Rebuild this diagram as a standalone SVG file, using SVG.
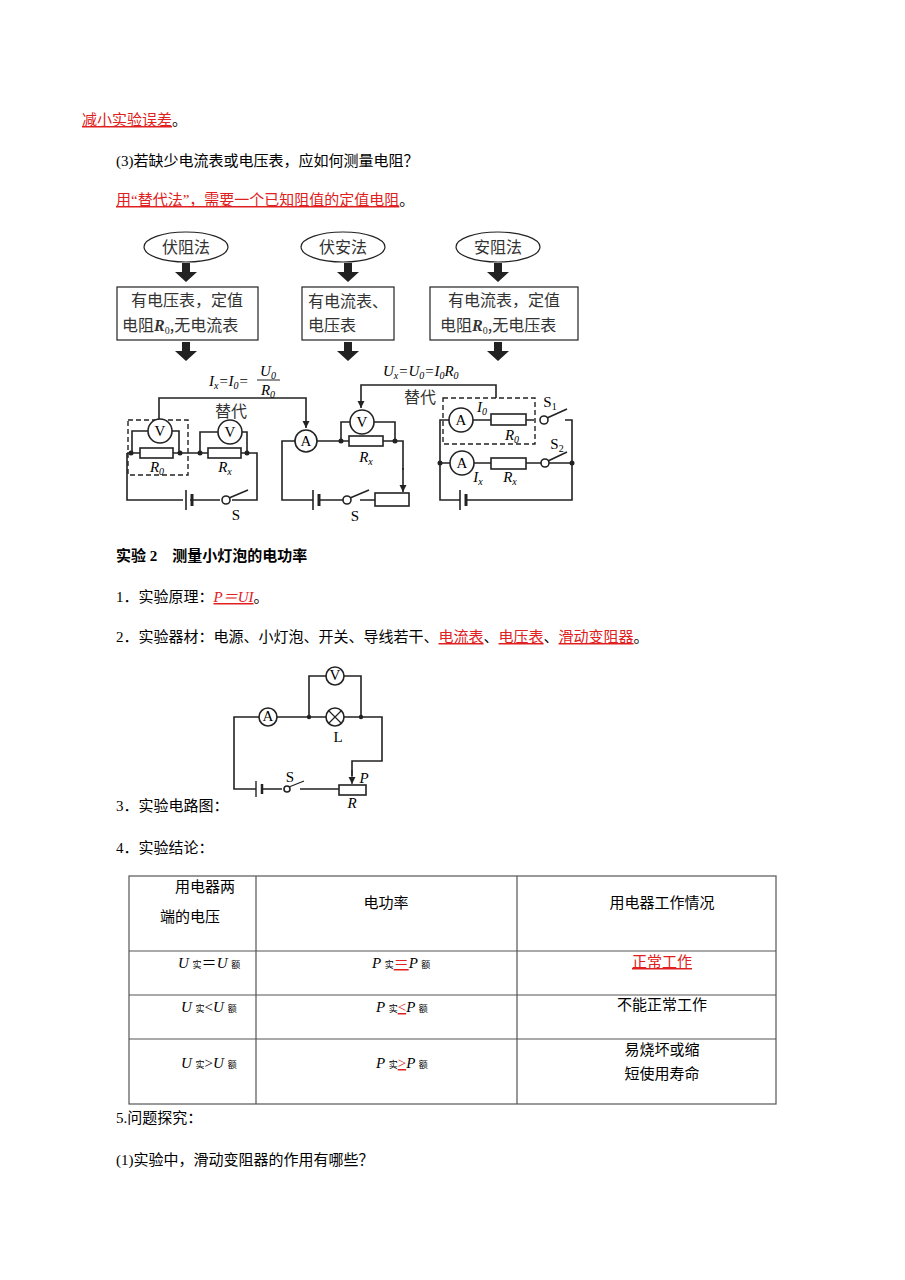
<svg xmlns="http://www.w3.org/2000/svg" width="905" height="1280" viewBox="0 0 905 1280">
<defs>
<style>
text{font-family:"Liberation Serif","Noto Sans CJK SC",serif;font-size:15px;fill:#000}
.r{fill:#e02020;text-decoration:underline}
.w{fill:none;stroke:#222;stroke-width:1.6}
.thin{fill:none;stroke:#222;stroke-width:1.2}
.d{fill:none;stroke:#222;stroke-width:1.4;stroke-dasharray:5 3}
.m{fill:#fff;stroke:#222;stroke-width:1.6}
.dot{fill:#222}
.lbl{font-family:"Liberation Serif",serif;font-size:15px;text-anchor:middle}
.it{font-style:italic}
.cj{font-family:"Noto Sans CJK SC",sans-serif;font-size:16px;fill:#333}
.c{text-anchor:middle}
.tb{fill:none;stroke:#555;stroke-width:1.2}
</style>
<marker id="ah" viewBox="0 0 10 10" refX="10" refY="5" markerWidth="7" markerHeight="9" orient="auto" markerUnits="userSpaceOnUse"><path d="M0,0L10,5L0,10Z" fill="#222"/></marker>
<g id="bigarrow"><path d="M-4,0H4V9H11L0,19L-11,9H-4Z" fill="#222"/></g>
</defs>
<rect width="905" height="1280" fill="#fff"/>

<g id="text-top">
<text x="82" y="125"><tspan class="r">减小实验误差</tspan>。</text>
<text x="116" y="166">(3)若缺少电流表或电压表，应如何测量电阻？</text>
<text x="116" y="205"><tspan class="r">用“替代法”，需要一个已知阻值的定值电阻</tspan>。</text>
</g>

<g id="flow">
<g id="n1"><ellipse cx="186" cy="247" rx="42" ry="15" class="thin"/><text x="186" y="253" class="cj c">伏阻法</text>
<use href="#bigarrow" x="186" y="263"/>
<rect x="117" y="287" width="141" height="53" class="thin"/><text x="187" y="306" class="cj c">有电压表，定值</text><text x="122" y="331" class="cj">电阻<tspan font-family="Liberation Serif" font-style="italic" font-weight="bold">R</tspan><tspan font-family="Liberation Serif" font-size="10" dy="3">0</tspan><tspan dy="-3">,无电流表</tspan></text>
<use href="#bigarrow" x="186" y="342"/></g>
<g id="n2"><ellipse cx="343" cy="247" rx="42" ry="15" class="thin"/><text x="343" y="253" class="cj c">伏安法</text>
<use href="#bigarrow" x="348" y="263"/>
<rect x="302" y="287" width="92" height="53" class="thin"/><text x="308" y="307" class="cj" font-size="15">有电流表、</text><text x="308" y="331" class="cj" font-size="15">电压表</text>
<use href="#bigarrow" x="348" y="342"/></g>
<g id="n3"><ellipse cx="498" cy="247" rx="42" ry="15" class="thin"/><text x="498" y="253" class="cj c">安阻法</text>
<use href="#bigarrow" x="498" y="263"/>
<rect x="430" y="287" width="148" height="53" class="thin"/><text x="504" y="306" class="cj c">有电流表，定值</text><text x="440" y="331" class="cj">电阻<tspan font-family="Liberation Serif" font-style="italic" font-weight="bold">R</tspan><tspan font-family="Liberation Serif" font-size="10" dy="3">0</tspan><tspan dy="-3">,无电压表</tspan></text>
<use href="#bigarrow" x="498" y="342"/></g>
</g>

<g id="circuit1">
<rect x="128" y="420" width="60" height="55" class="d"/>
<path d="M127,453H257V500H232M220,500H190M183,500H127V453" class="w"/>
<path d="M132,453V431H148M172,431H179V453M200,453V432H218M242,432H247V453" class="w"/>
<line x1="186" y1="490" x2="186" y2="510" stroke="#222" stroke-width="1.6"/><line x1="192" y1="494" x2="192" y2="506" stroke="#222" stroke-width="3"/>
<circle cx="226" cy="500" r="4" class="m"/><line x1="229" y1="498" x2="248" y2="490" class="w"/>
<circle cx="160" cy="431" r="12" class="m"/><text x="160" y="436" class="lbl">V</text>
<circle cx="230" cy="432" r="12" class="m"/><text x="230" y="437" class="lbl">V</text>
<rect x="140" y="448" width="33" height="10" class="m"/><rect x="208" y="448" width="33" height="10" class="m"/>
<circle cx="131" cy="453" r="2.5" class="dot"/><circle cx="180" cy="453" r="2.5" class="dot"/><circle cx="200" cy="453" r="2.5" class="dot"/><circle cx="247" cy="453" r="2.5" class="dot"/>
<text x="157" y="472" class="lbl it">R<tspan font-size="10" dy="3">0</tspan></text>
<text x="225" y="472" class="lbl it">R<tspan font-size="10" dy="3">x</tspan></text>
<text x="236" y="520" class="lbl">S</text>
</g>

<g id="circuit2">
<path d="M295,441H282V500H313M320,500H343M360,500H375M317,441H395H403V470" class="w"/>
<line x1="313" y1="490" x2="313" y2="510" stroke="#222" stroke-width="1.6"/><line x1="319" y1="494" x2="319" y2="506" stroke="#222" stroke-width="3"/>
<circle cx="347" cy="500" r="4" class="m"/><line x1="350" y1="498" x2="369" y2="490" class="w"/>
<rect x="375" y="493" width="34" height="13" class="m"/>
<path d="M403,468V492" class="w" marker-end="url(#ah)"/>
<path d="M341,441V422H350M374,422H395V441" class="w"/>
<circle cx="362" cy="422" r="12" class="m"/><text x="362" y="427" class="lbl">V</text>
<rect x="349" y="436" width="34" height="10" class="m"/>
<circle cx="306" cy="441" r="11" class="m"/><text x="306" y="446" class="lbl">A</text>
<circle cx="341" cy="441" r="2.5" class="dot"/><circle cx="395" cy="441" r="2.5" class="dot"/>
<text x="366" y="462" class="lbl it">R<tspan font-size="10" dy="3">x</tspan></text>
<text x="355" y="521" class="lbl">S</text>
</g>

<g id="circuit3">
<rect x="443" y="398" width="92" height="46" class="d"/>
<path d="M449,420H440V500H460M467,500H572V420H565M534,420H526M491,420H473M440,463H450M474,463H491M526,463H541M549,463H572" class="w"/>
<line x1="460" y1="490" x2="460" y2="510" stroke="#222" stroke-width="1.6"/><line x1="466" y1="494" x2="466" y2="506" stroke="#222" stroke-width="3"/>
<circle cx="461" cy="420" r="12" class="m"/><text x="461" y="425" class="lbl">A</text>
<circle cx="462" cy="463" r="12" class="m"/><text x="462" y="468" class="lbl">A</text>
<rect x="491" y="414" width="35" height="11" class="m"/><rect x="491" y="458" width="35" height="11" class="m"/>
<circle cx="544" cy="420" r="4" class="m"/><line x1="547" y1="418" x2="567" y2="409" class="w"/>
<circle cx="545" cy="463" r="4" class="m"/><line x1="548" y1="461" x2="567" y2="452" class="w"/>
<circle cx="440" cy="463" r="2.5" class="dot"/><circle cx="572" cy="463" r="2.5" class="dot"/>
<text x="482" y="412" class="lbl it">I<tspan font-size="10" dy="3">0</tspan></text>
<text x="512" y="440" class="lbl it">R<tspan font-size="10" dy="3">0</tspan></text>
<text x="478" y="482" class="lbl it">I<tspan font-size="10" dy="3">x</tspan></text>
<text x="510" y="482" class="lbl it">R<tspan font-size="10" dy="3">x</tspan></text>
<text x="550" y="407" class="lbl">S<tspan font-size="10" dy="3">1</tspan></text>
<text x="557" y="449" class="lbl">S<tspan font-size="10" dy="3">2</tspan></text>
</g>

<g id="connectors">
<path d="M159,419V398H306V428" class="w" marker-end="url(#ah)"/>
<path d="M496,398V385H361V408" class="w" marker-end="url(#ah)"/>
<text x="209" y="386" class="it" font-family="Liberation Serif">I<tspan font-size="10" dy="3">x</tspan><tspan dy="-3">=I</tspan><tspan font-size="10" dy="3">0</tspan><tspan dy="-3">=</tspan></text>
<text x="268" y="376" class="lbl it">U<tspan font-size="10" dy="3">0</tspan></text>
<line x1="257" y1="380" x2="280" y2="380" stroke="#222" stroke-width="1"/>
<text x="268" y="395" class="lbl it">R<tspan font-size="10" dy="3">0</tspan></text>
<text x="231" y="417" class="cj c">替代</text>
<text x="383" y="376" class="it" font-family="Liberation Serif">U<tspan font-size="10" dy="3">x</tspan><tspan dy="-3">=U</tspan><tspan font-size="10" dy="3">0</tspan><tspan dy="-3">=I</tspan><tspan font-size="10" dy="3">0</tspan><tspan dy="-3">R</tspan><tspan font-size="10" dy="3">0</tspan></text>
<text x="420" y="403" class="cj c">替代</text>
</g>

<g id="text-mid">
<text x="116" y="561" font-weight="bold" font-size="14">实验 2　测量小灯泡的电功率</text>
<text x="116" y="602">1．实验原理：<tspan class="r" font-style="italic">P＝UI</tspan>。</text>
<text x="116" y="642">2．实验器材：电源、小灯泡、开关、导线若干、<tspan class="r">电流表</tspan>、<tspan class="r">电压表</tspan>、<tspan class="r">滑动变阻器</tspan>。</text>
<text x="116" y="811">3．实验电路图：</text>
<text x="116" y="853">4．实验结论：</text>
</g>

<g id="circuit4">
<path d="M259,717H234V789H256M262,789H282M300,789H339M277,717H326M344,717H382V761H352V776" class="w"/>
<path d="M352,770V784" class="thin" marker-end="url(#ah)"/>
<path d="M309,717V676H326M344,676H361V717" class="w"/>
<line x1="256" y1="781" x2="256" y2="797" stroke="#222" stroke-width="1.4"/><line x1="262" y1="784" x2="262" y2="794" stroke="#222" stroke-width="2.5"/>
<circle cx="287" cy="789" r="3" class="m"/><line x1="289" y1="787" x2="304" y2="781" class="thin"/>
<rect x="339" y="785" width="27" height="10" class="m"/>
<circle cx="268" cy="717" r="9" class="m"/><text x="268" y="721" class="lbl" font-size="11">A</text>
<circle cx="335" cy="676" r="9" class="m"/><text x="335" y="680" class="lbl" font-size="11">V</text>
<circle cx="335" cy="717" r="9" class="m"/><path d="M329,711L341,723M341,711L329,723" class="thin"/>
<circle cx="309" cy="717" r="2.2" class="dot"/><circle cx="361" cy="717" r="2.2" class="dot"/>
<text x="338" y="742" class="lbl" font-size="13">L</text>
<text x="290" y="782" class="lbl" font-size="13">S</text>
<text x="364" y="783" class="lbl it" font-size="13">P</text>
<text x="352" y="808" class="lbl it" font-size="13">R</text>
</g>

<g id="table">
<rect x="129" y="876" width="647" height="228" class="tb"/>
<path d="M129,951H776M129,995H776M129,1039H776M256,876V1104M517,876V1104" class="tb"/>
<text x="175" y="892">用电器两</text><text x="160" y="922">端的电压</text>
<text x="386" y="908" class="c">电功率</text>
<text x="662" y="908" class="c">用电器工作情况</text>
<text x="178" y="968" class="it">U <tspan font-size="9" font-style="normal">实</tspan><tspan font-style="normal">＝</tspan>U <tspan font-size="9" font-style="normal">额</tspan></text>
<text x="372" y="968" class="it">P <tspan font-size="9" font-style="normal">实</tspan><tspan class="r" font-style="normal">＝</tspan>P <tspan font-size="9" font-style="normal">额</tspan></text>
<text x="662" y="967" class="c"><tspan class="r">正常工作</tspan></text>
<text x="181" y="1012" class="it">U <tspan font-size="9" font-style="normal">实</tspan><tspan font-style="normal">&lt;</tspan>U <tspan font-size="9" font-style="normal">额</tspan></text>
<text x="376" y="1012" class="it">P <tspan font-size="9" font-style="normal">实</tspan><tspan class="r" font-style="normal">&lt;</tspan>P <tspan font-size="9" font-style="normal">额</tspan></text>
<text x="662" y="1010" class="c">不能正常工作</text>
<text x="181" y="1068" class="it">U <tspan font-size="9" font-style="normal">实</tspan><tspan font-style="normal">&gt;</tspan>U <tspan font-size="9" font-style="normal">额</tspan></text>
<text x="376" y="1068" class="it">P <tspan font-size="9" font-style="normal">实</tspan><tspan class="r" font-style="normal">&gt;</tspan>P <tspan font-size="9" font-style="normal">额</tspan></text>
<text x="662" y="1055" class="c">易烧坏或缩</text><text x="662" y="1079" class="c">短使用寿命</text>
</g>

<g id="text-bottom">
<text x="116" y="1123">5.问题探究：</text>
<text x="116" y="1165">(1)实验中，滑动变阻器的作用有哪些？</text>
</g>
</svg>
